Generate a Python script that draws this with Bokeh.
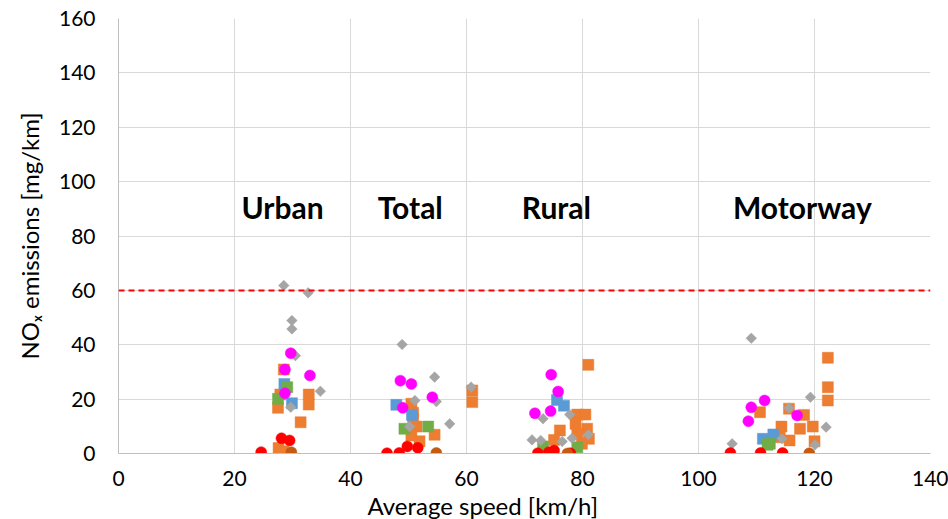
import numpy as np
from bokeh.plotting import figure
from bokeh.models import Range1d, Span, FixedTicker, Title, ColumnDataSource
from bokeh.core.properties import value
from bokeh.embed import file_html
from bokeh.resources import INLINE

# ---- data ----
orange_x = [28.5, 27.9, 32.8, 32.8, 27.5, 31.4, 27.6, 28.4, 27.9,
            61.0, 61.0, 50.5, 50.8, 50.8, 51.4, 54.5, 50.5, 51.9,
            81.0, 79.1, 80.5, 78.8, 80.8, 79.1, 76.1, 81.1, 79.9, 75.1,
            122.3, 122.3, 122.3, 110.6, 115.6, 118.2, 114.3, 117.5, 119.7, 114.0, 115.7, 120.0]
orange_y = [30.9, 21.7, 21.7, 18.0, 16.8, 11.5, 2.0, 0.8, 0.2,
            23.2, 18.9, 18.3, 15.0, 12.8, 9.9, 6.9, 6.6, 4.5,
            32.6, 14.3, 14.3, 10.9, 9.1, 7.2, 8.5, 5.4, 3.6, 5.0,
            35.2, 24.4, 19.5, 15.2, 16.5, 14.2, 9.9, 9.1, 9.9, 6.0, 4.8, 4.5]

blue_x = [28.6, 29.9, 47.9, 50.6, 75.6, 76.8, 112.9, 111.1]
blue_y = [25.6, 18.5, 17.9, 14.2, 19.7, 17.6, 7.0, 5.4]

green_x = [29.1, 27.5, 53.4, 49.3, 73.2, 79.1, 112.3, 111.9]
green_y = [24.4, 20.1, 9.9, 9.1, 2.6, 2.3, 3.6, 3.2]

grey_x = [28.5, 32.7, 29.9, 29.9, 30.5, 34.8, 29.7,
          48.9, 54.5, 60.8, 54.8, 51.1, 57.1, 50.2,
          73.2, 77.8, 81.0, 78.2, 76.5, 71.3, 72.8,
          109.1, 119.3, 115.6, 122.0, 114.4, 120.1, 105.8]
grey_y = [61.8, 59.1, 48.9, 45.8, 36.0, 22.9, 17.0,
          40.1, 28.1, 24.4, 19.1, 19.5, 10.9, 9.9,
          12.8, 14.3, 6.9, 5.6, 4.4, 5.0, 4.8,
          42.4, 20.7, 16.7, 9.7, 5.4, 3.2, 3.6]

magenta_x = [29.7, 28.7, 33.0, 28.7, 48.6, 50.5, 54.1, 49.0,
             74.6, 75.8, 71.8, 74.5, 111.4, 109.1, 117.0, 108.6]
magenta_y = [36.9, 30.9, 28.7, 22.2, 26.8, 25.6, 20.7, 16.8,
             29.0, 22.8, 14.8, 15.6, 19.5, 17.0, 14.0, 11.9]

red_x = [28.1, 29.5, 24.6, 46.3, 48.4, 49.8, 51.6, 72.3, 74.2, 75.1, 77.9, 105.5, 110.7, 114.5]
red_y = [5.6, 4.8, 0.5, 0.1, 0.2, 2.6, 2.1, 0.1, 0.5, 1.1, 0.1, 0.2, 0.2, 0.2]

brown_x = [29.8, 54.8, 77.4, 119.1]
brown_y = [0.5, 0.2, 0.0, 0.1]

limit_value = 60
labels_text = ["Urban", "Total", "Rural", "Motorway"]
labels_x = [28.3, 50.3, 75.5, 117.9]
labels_y = [90.8, 90.8, 90.8, 90.8]
x_ticks = [0, 20, 40, 60, 80, 100, 120, 140]
y_ticks = [0, 20, 40, 60, 80, 100, 120, 140, 160]
x_title = "Average speed [km/h]"
y_title = "NOₓ emissions [mg/km]"

FONT = "Lato"

p = figure(width=948, height=519, output_backend="svg", toolbar_location=None,
           x_range=Range1d(0, 140), y_range=Range1d(0, 160),
           min_border_left=118, min_border_right=18, min_border_top=18, min_border_bottom=66)
p.outline_line_color = None
p.background_fill_color = "white"
p.border_fill_color = "white"

for ax in (p.xaxis[0], p.yaxis[0]):
    ax.major_tick_line_color = None
    ax.minor_tick_line_color = None
    ax.axis_line_color = "#BFBFBF"
    ax.major_label_text_font = FONT
    ax.major_label_text_font_size = "21px"
    ax.major_label_text_color = "#000000"
    ax.axis_label_text_font = FONT
    ax.axis_label_text_font_size = "24px"
    ax.axis_label_text_font_style = "normal"
    ax.axis_label_text_color = "#000000"

p.xaxis.ticker = FixedTicker(ticks=x_ticks)
p.yaxis.ticker = FixedTicker(ticks=y_ticks)
p.yaxis.axis_label = y_title
p.xaxis.major_label_standoff = 11
p.yaxis.major_label_standoff = 17
p.yaxis.axis_label_standoff = 12

p.xgrid.grid_line_color = "#D9D9D9"
p.ygrid.grid_line_color = "#D9D9D9"
p.xgrid.ticker = FixedTicker(ticks=x_ticks)
p.ygrid.ticker = FixedTicker(ticks=y_ticks)

p.add_layout(Span(location=limit_value, dimension="width", line_color="#FF0000",
                  line_width=2, line_dash="6 4"))

# x-axis title, placed (as in the reference) slightly left of the frame centre
p.add_layout(Title(text=x_title, align="left", offset=249, standoff=0,
                   text_font=FONT, text_font_size="24px", text_font_style="normal",
                   text_color="#000000"), "below")

S = 11
p.scatter(orange_x, orange_y, marker="square", size=S, fill_color="#ED7D31", line_color="#ED7D31", line_width=0.5)
p.scatter(blue_x, blue_y, marker="square", size=S, fill_color="#5B9BD5", line_color="#5B9BD5", line_width=0.5)
p.scatter(green_x, green_y, marker="square", size=S, fill_color="#70AD47", line_color="#70AD47", line_width=0.5)
p.scatter(grey_x, grey_y, marker="square", angle=np.pi / 4, size=7.5, fill_color="#A5A5A5", line_color="#A5A5A5", line_width=0.5)
p.scatter(magenta_x, magenta_y, marker="circle", size=S, fill_color="#FF00FF", line_color="#FF00FF", line_width=0.5)
p.scatter(red_x, red_y, marker="circle", size=S, fill_color="#FF0000", line_color="#FF0000", line_width=0.5)
p.scatter(brown_x, brown_y, marker="circle", size=S, fill_color="#C55A11", line_color="#C55A11", line_width=0.5)

src = ColumnDataSource(dict(x=labels_x, y=labels_y, t=labels_text))
p.text(x="x", y="y", text="t", source=src, text_font=value(FONT), text_font_size="30px",
       text_font_style="bold", text_align="center", text_baseline="middle", text_color="#000000")

open("out.html", "w").write(file_html(p, INLINE))
